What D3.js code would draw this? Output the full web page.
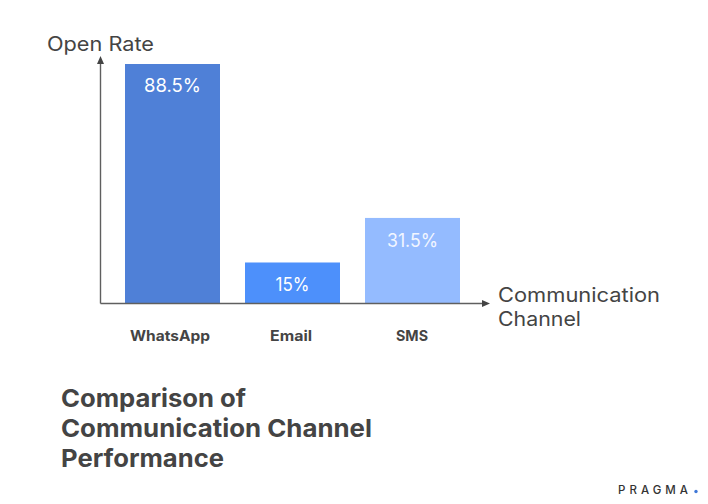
<!DOCTYPE html>
<html><head><meta charset="utf-8">
<script src="https://cdn.jsdelivr.net/npm/d3@7"></script>
<style>html,body{margin:0;background:#fff}svg{display:block}text{font-family:Inter,"Open Sans",sans-serif}</style>
</head><body><svg id="c" width="708" height="504"></svg>
<script>
const categories = ["WhatsApp","Email","SMS"];
const openRates = [88.5,15,31.5];
const valueLabels = ["88.5%","15%","31.5%"];
const barColors = ["#4f80d7","#4d90fb","#94bbff"];
const titleLines = ["Comparison of","Communication Channel","Performance"];
const xTitleLines = ["Communication","Channel"];
const ink = "#444444", axisInk = "#5f5f5f";

// horizontal fit of each text (the reference typeface is wider than the installed ones)
const fit = { val:[57,34,51], cat:[80,42,32], xt:[162,83], tt:[185,311,163] };
const catNudge = [-2.5,-1.5,-0.5];
const stretch = (cls) => (sel) => sel.attr("textLength",(d,i)=>fit[cls][i]).attr("lengthAdjust","spacingAndGlyphs");

const svg = d3.select("#c");
const x = d3.scaleBand().domain(categories).range([125,460]).paddingInner(25/120).paddingOuter(0);
const y = d3.scaleLinear().domain([0,88.5]).range([303,64]);

svg.selectAll("rect.bar").data(openRates).join("rect").attr("class","bar")
  .attr("x",(d,i)=>x(categories[i])).attr("width",x.bandwidth())
  .attr("y",d=>y(d)).attr("height",d=>y(0)-y(d))
  .attr("fill",(d,i)=>barColors[i]);

// axes
svg.append("path").attr("d","M100.5 303.5V60M100.5 303.5H484").attr("fill","none").attr("stroke",axisInk).attr("stroke-width",1.4);
svg.append("path").attr("d","M100.5 56l-3.5 8h7zM490 303.5l-8 -3.5v7z").attr("fill",ink);

// value labels
const labelOffsets = [28,28,29];
svg.selectAll("text.val").data(valueLabels).join("text").attr("class","val")
  .attr("x",(d,i)=>x(categories[i])+x.bandwidth()/2)
  .attr("y",(d,i)=> i===1 ? y(0)-12 : y(openRates[i])+labelOffsets[i])
  .attr("text-anchor","middle").attr("fill",(d,i)=>i===2?"#f2f6ff":"#fff")
  .attr("font-size",18).text(d=>d).call(stretch("val"));

// category labels
svg.selectAll("text.cat").data(categories).join("text").attr("class","cat")
  .attr("x",(d,i)=>x(d)+x.bandwidth()/2+catNudge[i]).attr("y",341)
  .attr("text-anchor","middle").attr("fill",ink)
  .attr("font-size",14.5).attr("font-weight",700).text(d=>d).call(stretch("cat"));

// axis titles
svg.append("text").attr("x",47).attr("y",50.5).attr("fill",ink).attr("font-size",19.5)
  .attr("textLength",107).attr("lengthAdjust","spacingAndGlyphs").text("Open Rate");
svg.selectAll("text.xt").data(xTitleLines).join("text").attr("class","xt")
  .attr("x",498).attr("y",(d,i)=>302+i*24).attr("fill",ink).attr("font-size",19.5).text(d=>d).call(stretch("xt"));

// title
svg.selectAll("text.tt").data(titleLines).join("text").attr("class","tt")
  .attr("x",61).attr("y",(d,i)=>406.5+i*30).attr("fill",ink)
  .attr("font-size",24.5).attr("font-weight",700).text(d=>d).call(stretch("tt"));

// brand
svg.append("text").attr("x",618).attr("y",494).attr("fill","#333").attr("font-size",11.5).attr("font-weight",500)
  .attr("textLength",70).text("PRAGMA");
svg.append("circle").attr("cx",696).attr("cy",491.5).attr("r",1.7).attr("fill","#3f78d8");
</script></body></html>
